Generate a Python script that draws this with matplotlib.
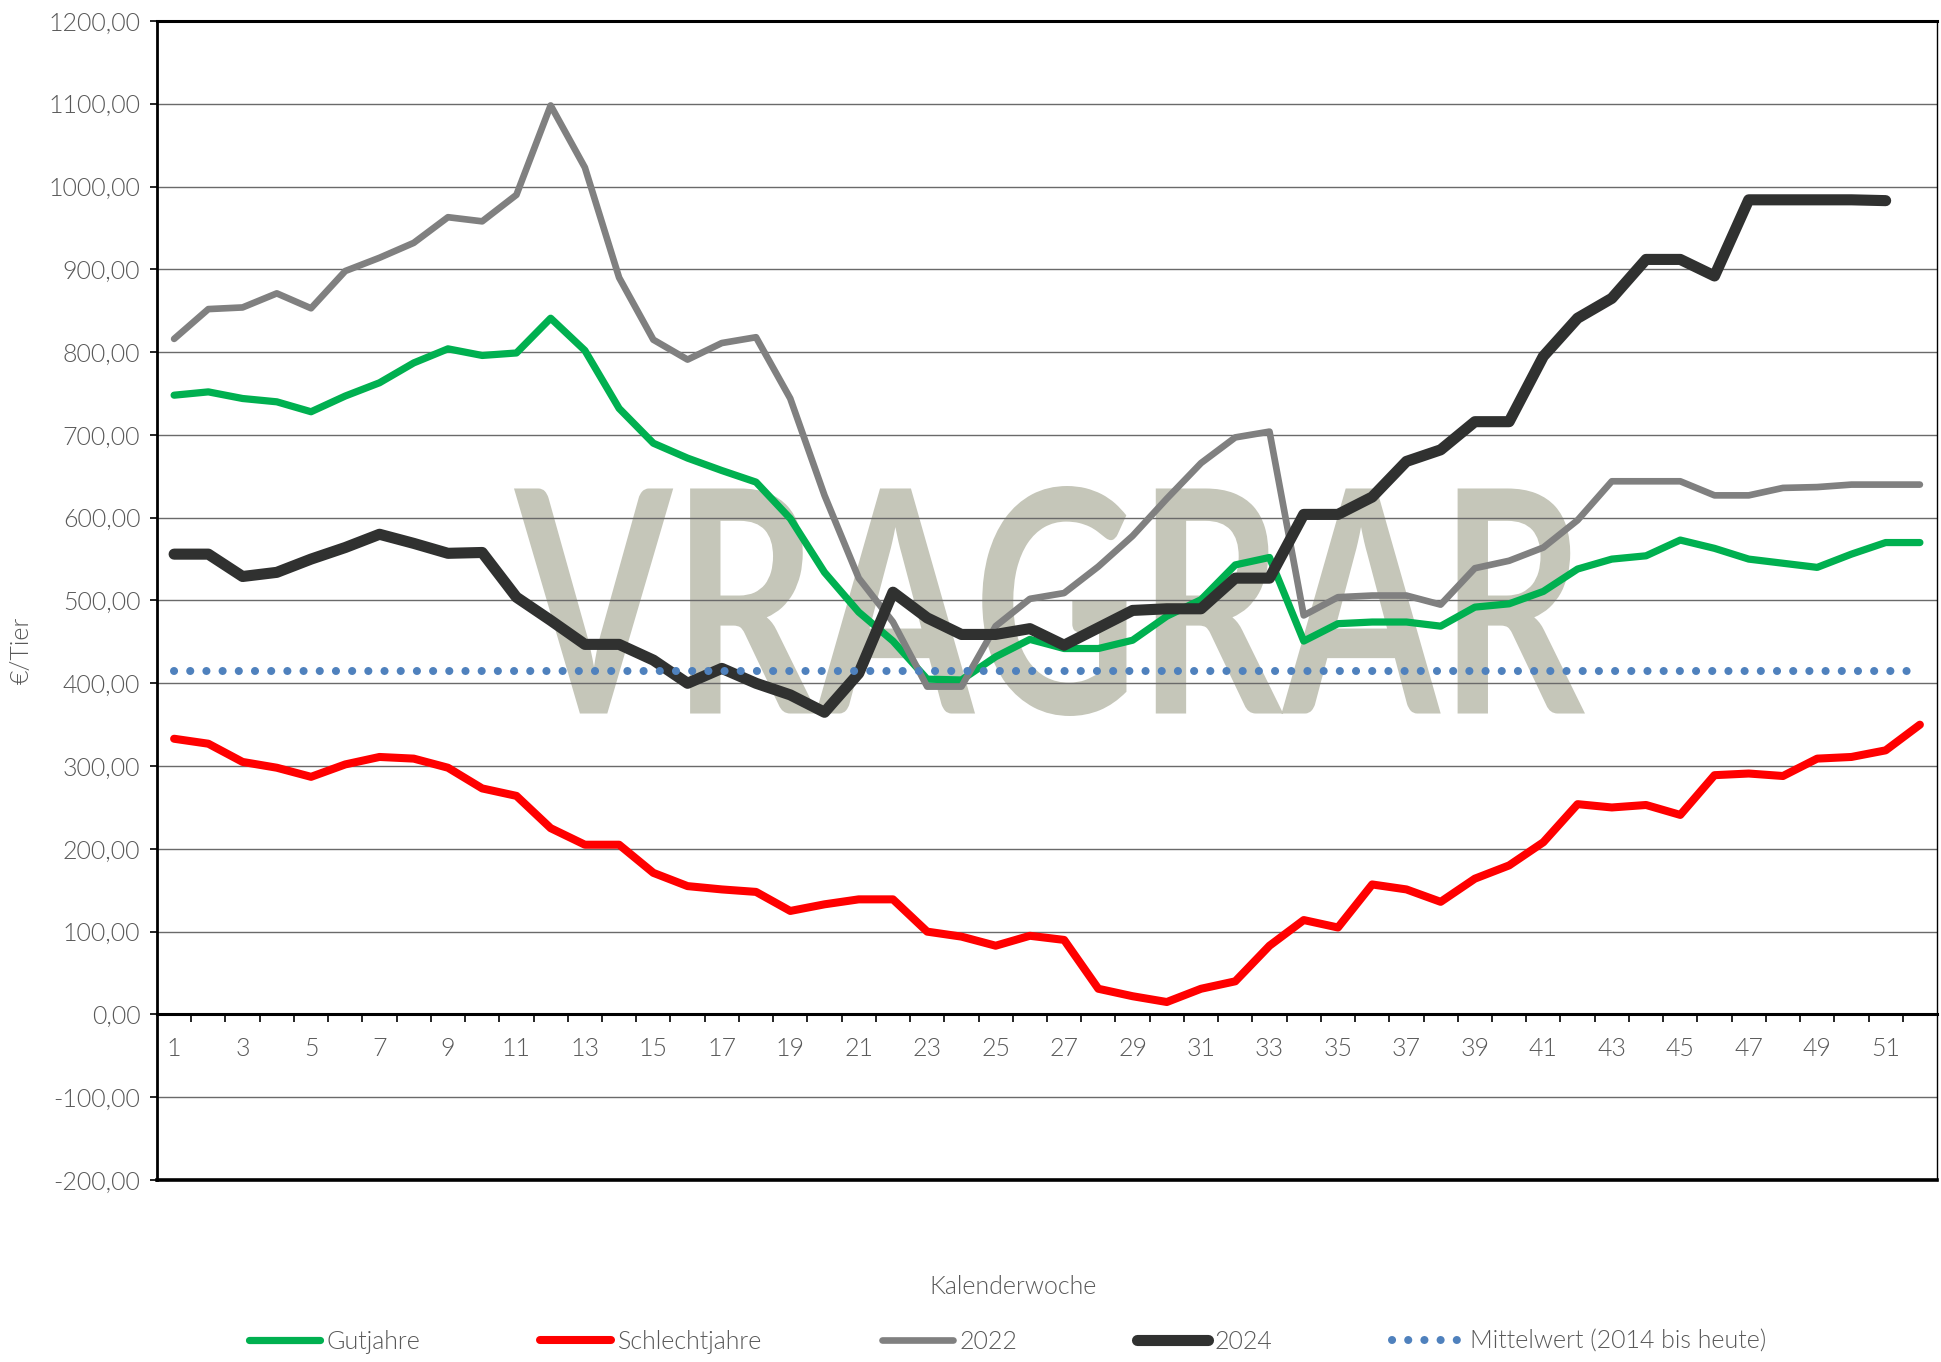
import matplotlib
matplotlib.use("Agg")
import matplotlib.pyplot as plt
import numpy as np
from matplotlib.font_manager import FontProperties
from matplotlib.patches import PathPatch
from matplotlib.textpath import TextPath
from matplotlib.transforms import Affine2D
from matplotlib.ticker import FixedLocator, FuncFormatter

# ---------------------------------------------------------------------------
# Data, EUR per animal by calendar week
# ---------------------------------------------------------------------------
weeks = np.arange(1, 53)

gutjahre = [748, 752, 744, 740, 728, 747, 763, 787, 804, 796,
            799, 841, 802, 732, 690, 672, 657, 643, 599, 534,
            486, 451, 405, 404, 432, 453, 442, 442, 452, 481,
            501, 543, 552, 451, 472, 474, 474, 469, 492, 496,
            511, 538, 550, 554, 573, 563, 550, 545, 540, 556,
            570, 570]

schlechtjahre = [333, 327, 305, 298, 287, 302, 311, 309, 298, 273,
                 264, 225, 205, 205, 171, 155, 151, 148, 125, 133,
                 139, 139, 100, 94, 83, 95, 90, 31, 22, 15,
                 31, 40, 83, 114, 105, 157, 151, 136, 164, 180,
                 208, 254, 250, 253, 241, 289, 291, 288, 309, 311,
                 319, 350]

jahr_2022 = [816, 852, 854, 871, 853, 898, 914, 932, 963, 958,
             990, 1098, 1023, 890, 815, 791, 811, 818, 744, 627,
             527, 474, 396, 396, 469, 502, 509, 541, 578, 623,
             666, 697, 704, 482, 504, 506, 506, 495, 539, 548,
             564, 597, 644, 644, 644, 627, 627, 636, 637, 640,
             640, 640]

# 2024 stops at week 51
jahr_2024 = [556, 556, 529, 534, 550, 564, 580, 569, 557, 558,
             504, 476, 447, 447, 428, 400, 418, 400, 386, 365,
             412, 510, 479, 459, 459, 466, 446, 467, 488, 490,
             490, 527, 527, 604, 604, 625, 668, 682, 716, 716,
             795, 841, 865, 912, 912, 892, 984, 984, 984, 984,
             983, np.nan]

mittelwert = 415.0

y_ticks = list(range(-200, 1201, 100))
x_labels = list(range(1, 52, 2))

TEXT_GREY = "#595959"
FONT = "Lato"
FS = 18

# ---------------------------------------------------------------------------
# Figure
# ---------------------------------------------------------------------------
plt.rcParams["font.family"] = [FONT, "DejaVu Sans"]
plt.rcParams["font.weight"] = 300

W, H = 1941, 1362
fig = plt.figure(figsize=(W / 100, H / 100), dpi=100)
ax = fig.add_axes([157 / W, 1 - 1180 / H, (1937 - 157) / W, (1180 - 21) / H])

# watermark, stretched into its box (figure fraction)
fp = FontProperties(family="Lato", weight="bold")
tp = TextPath((0, 0), "VRAGRAR", size=100, prop=fp)
ext = tp.get_extents()
bx0, bx1 = 514 / W, 1585 / W
by0, by1 = 1 - 716 / H, 1 - 486 / H
wm_tr = (Affine2D().translate(-ext.x0, -ext.y0)
         .scale((bx1 - bx0) / ext.width, (by1 - by0) / ext.height)
         .translate(bx0, by0))
ax.add_patch(PathPatch(tp, transform=wm_tr + fig.transFigure,
                       facecolor="#C5C6B9", edgecolor="none", zorder=0.8))

# horizontal grid
for yv in y_ticks:
    if yv in (0, -200, 1200):
        continue
    ax.axhline(yv, color="#6a6a6a", linewidth=1.0, zorder=1)

ax.plot(weeks, gutjahre, color="#00B050", linewidth=5.2,
        solid_joinstyle="round", solid_capstyle="round", label="Gutjahre", zorder=3)
ax.plot(weeks, schlechtjahre, color="#FF0000", linewidth=5.8,
        solid_joinstyle="round", solid_capstyle="round", label="Schlechtjahre", zorder=3)
ax.plot(weeks, jahr_2022, color="#808080", linewidth=4.8,
        solid_joinstyle="round", solid_capstyle="round", label="2022", zorder=3)
ax.plot(weeks, jahr_2024, color="#303130", linewidth=8.0,
        solid_joinstyle="round", solid_capstyle="round", label="2024", zorder=4)
ax.plot(weeks, [mittelwert] * len(weeks), color="#4F81BD", linewidth=5.8,
        linestyle=(0, (0.01, 2.0)), dash_capstyle="round",
        label="Mittelwert (2014 bis heute)", zorder=5)

ax.set_xlim(0.5, 52.5)
ax.set_ylim(-200, 1200)

# frame: x axis sits at 0, box around the plot area
ax.spines["bottom"].set_position(("data", 0))
ax.spines["bottom"].set_linewidth(2.2)
ax.spines["top"].set_linewidth(2.2)
ax.spines["left"].set_linewidth(2.0)
ax.spines["right"].set_linewidth(1.0)
for s in ax.spines.values():
    s.set_color("black")
ax.axhline(-200, color="black", linewidth=2.6, clip_on=False, zorder=6)

ax.xaxis.set_major_locator(FixedLocator(x_labels))
ax.xaxis.set_minor_locator(FixedLocator(np.arange(1.5, 52, 1.0)))
ax.tick_params(axis="x", which="major", length=0, pad=16,
               labelsize=FS, labelcolor=TEXT_GREY)
ax.tick_params(axis="x", which="minor", length=6, width=1.2,
               direction="out", color="black")

ax.yaxis.set_major_locator(FixedLocator(y_ticks))
ax.yaxis.set_major_formatter(
    FuncFormatter(lambda v, _: f"{v:.2f}".replace(".", ",")))
ax.tick_params(axis="y", length=5, width=1.2, pad=7, color="black",
               labelsize=FS, labelcolor=TEXT_GREY)

fig.text(22 / W, 1 - 650 / H, "€/Tier", rotation=90, ha="center",
         va="center", fontsize=FS, color=TEXT_GREY)
fig.text(1013 / W, 1 - 1287 / H, "Kalenderwoche", ha="center",
         va="center", fontsize=FS, color=TEXT_GREY)

leg = fig.legend(loc="center", bbox_to_anchor=(0.519, 1 - 1342 / H), ncol=5,
                 frameon=False, fontsize=FS, handlelength=2.85,
                 handletextpad=0.25, columnspacing=4.8)
for t in leg.get_texts():
    t.set_color(TEXT_GREY)

fig.savefig("out.png", dpi=100)
